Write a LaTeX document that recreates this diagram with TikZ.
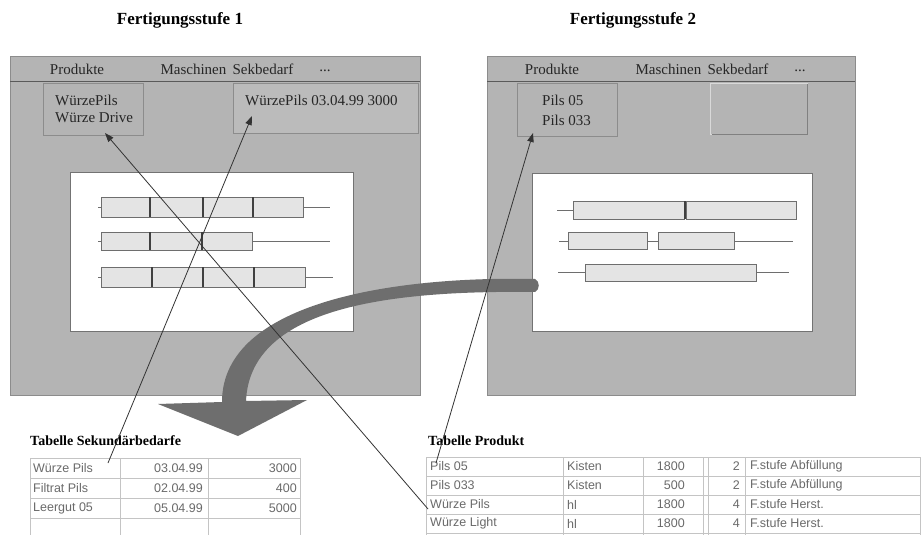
\documentclass[tikz,border=0pt]{standalone}
\usepackage{fontspec}
\setmainfont{Liberation Serif}
\newfontfamily\tabfont{Liberation Sans}
\usetikzlibrary{arrows.meta}

\definecolor{panelgray}{HTML}{B4B4B4}
\definecolor{paneledge}{HTML}{8C8C8C}
\definecolor{headrule}{HTML}{5A5A5A}
\definecolor{barfill}{HTML}{E4E4E4}
\definecolor{bardraw}{HTML}{6E6E6E}
\definecolor{flowgray}{HTML}{6E6E6E}
\definecolor{gridgray}{HTML}{C4C4C4}
\definecolor{celltext}{HTML}{6A6A6A}

\tikzset{
  panel/.style={fill=panelgray, draw=paneledge, line width=0.8pt},
  headrule/.style={draw=headrule, line width=0.9pt},
  subbox/.style={fill=panelgray, draw=black!45, line width=0.6pt},
  chart/.style={fill=white, draw=black!55, line width=0.8pt},
  ganttbar/.style={fill=barfill, draw=bardraw, line width=0.7pt},
  ganttline/.style={draw=bardraw, line width=0.7pt},
  divider/.style={draw=black!75, line width=1.2pt},
  title/.style={font=\fontsize{17}{20}\selectfont\bfseries, inner sep=0pt},
  tabtitle/.style={font=\fontsize{14}{16}\selectfont\bfseries, inner sep=0pt, anchor=west},
  ptext/.style={font=\fontsize{15}{18}\selectfont, text=black!85, inner sep=0pt},
  cell/.style={font=\tabfont\fontsize{12.5}{14}\selectfont, text=celltext, inner sep=0pt},
  cellL/.style={cell, anchor=west},
  cellR/.style={cell, anchor=east},
  grid/.style={draw=gridgray, line width=0.7pt},
  link/.style={draw=black!80, line width=0.8pt, -{Triangle[length=9pt,width=6.5pt]}}
}

\begin{document}
\begin{tikzpicture}[x=1pt,y=-1pt]
\useasboundingbox[fill=white] (0,0) rectangle (924,535);

% ---------- headings ----------
\node[title] (h1) at (180,20) {Fertigungsstufe 1};
\node[title] (h2) at (633,20) {Fertigungsstufe 2};

% ---------- stage 1 window ----------
\draw[panel] (10,56) rectangle (420,395);
\draw[headrule] (10,81) -- (420,81);
\node[ptext] (p1prod) at (77,69) {Produkte};
\node[ptext] (p1mach) at (227,69) {Maschinen\, Sekbedarf};
\node[ptext] (p1more) at (325,71) {...};

\draw[subbox] (43,83) rectangle (143,135);
\node[ptext, anchor=west] (p1a) at (55,100) {WürzePils};
\node[ptext, anchor=west] (p1b) at (55,118) {Würze Drive};

\draw[subbox, fill=panelgray!90!white] (233,83) rectangle (418,133);
\node[ptext, anchor=west] (p1sek) at (245,100) {WürzePils 03.04.99 3000};

\draw[chart] (70,172) rectangle (353,331);
% row 1
\draw[ganttline] (98,207) -- (101,207);
\draw[ganttline] (303,207) -- (330,207);
\draw[ganttbar] (101,197) rectangle (303,217);
\foreach \x in {150,203,253} \draw[divider] (\x,197) -- (\x,217);
% row 2
\draw[ganttline] (98,241) -- (101,241);
\draw[ganttline] (252,241) -- (330,241);
\draw[ganttbar] (101,232) rectangle (252,250);
\foreach \x in {150,202} \draw[divider] (\x,232) -- (\x,250);
% row 3
\draw[ganttline] (98,277) -- (101,277);
\draw[ganttline] (305,277) -- (333,277);
\draw[ganttbar] (101,267) rectangle (305,287);
\foreach \x in {152,203,254} \draw[divider] (\x,267) -- (\x,287);

% ---------- stage 2 window ----------
\draw[panel] (487,56) rectangle (855,395);
\draw[headrule] (487,81) -- (855,81);
\node[ptext] (p2prod) at (552,69) {Produkte};
\node[ptext] (p2mach) at (702,69) {Maschinen\, Sekbedarf};
\node[ptext] (p2more) at (800,71) {...};

\draw[subbox] (517,83) rectangle (617,136);
\node[ptext, anchor=west] (p2a) at (542,100) {Pils 05};
\node[ptext, anchor=west] (p2b) at (542,120) {Pils 033};

\draw[subbox, draw=white!85!black] (710,83) rectangle (807,134);
\draw[draw=black!50, line width=0.7pt] (712,134) -- (807,134) -- (807,84);

\draw[chart] (532,173) rectangle (812,331);
% row 1
\draw[ganttline] (557,210) -- (573,210);
\draw[ganttbar] (573,201) rectangle (684,219);
\draw[ganttbar] (686,201) rectangle (796,219);
\draw[divider] (685,201) -- (685,219);
% row 2
\draw[ganttline] (559,241) -- (568,241);
\draw[ganttbar] (568,232) rectangle (647,249);
\draw[ganttline] (647,241) -- (658,241);
\draw[ganttbar] (658,232) rectangle (734,249);
\draw[ganttline] (734,241) -- (793,241);
% row 3
\draw[ganttline] (558,272) -- (585,272);
\draw[ganttbar] (585,264) rectangle (756,281);
\draw[ganttline] (756,272) -- (789,272);

% ---------- transfer arrow from stage 2 to stage 1 ----------
\fill[flowgray]
  (535,279) .. controls (400,276) and (222,300) .. (222,402)
  -- (158,404) -- (238,436) -- (307,400) -- (246,401)
  .. controls (250,310) and (380,290) .. (535,292)
  .. controls (540,290) and (540,281) .. (535,279) -- cycle;

% ---------- table of secondary demands ----------
\node[tabtitle] (t1title) at (30,441) {Tabelle Sekundärbedarfe};
\foreach \y in {458,478,498,518} \draw[grid] (30,\y) -- (300,\y);
\foreach \x in {30,120,208,300} \draw[grid] (\x,458) -- (\x,535);
\node[cellL] (t1a1) at (33,468) {Würze Pils};
\node[cellR] (t1a2) at (203,468) {03.04.99};
\node[cellR] (t1a3) at (297,468) {3000};
\node[cellL] (t1b1) at (33,488) {Filtrat Pils};
\node[cellR] (t1b2) at (203,488) {02.04.99};
\node[cellR] (t1b3) at (297,488) {400};
\node[cellL] (t1c1) at (33,508) {Leergut 05};
\node[cellR] (t1c2) at (203,508) {05.04.99};
\node[cellR] (t1c3) at (297,508) {5000};

% ---------- product table ----------
\node[tabtitle] (t2title) at (428,441) {Tabelle Produkt};
\foreach \y in {457,476,495,514,533} \draw[grid] (426,\y) -- (920,\y);
\foreach \x in {426,563,643,703,708,745,920} \draw[grid] (\x,457) -- (\x,535);
\foreach \r/\y/\a/\b/\c/\d/\e in {
  1/466.5/Pils 05/Kisten/1800/2/F.stufe Abfüllung,
  2/485.5/Pils 033/Kisten/500/2/F.stufe Abfüllung,
  3/504.5/Würze Pils/hl/1800/4/F.stufe Herst.,
  4/523.5/Würze Light/hl/1800/4/F.stufe Herst.}{
  \node[cellL] (t2r\r a) at (430,\y) {\a};
  \node[cellL] (t2r\r b) at (567,\y) {\b};
  \node[cellR] (t2r\r c) at (685,\y) {\c};
  \node[cellR] (t2r\r d) at (740,\y) {\d};
  \node[cellL] (t2r\r e) at (750,\y) {\e};
}

% ---------- references between tables and windows ----------
\coordinate (srcSek)  at (108,463);
\coordinate (tipSek)  at (252,116);
\coordinate (srcWuerze) at (428,509);
\coordinate (tipWuerze) at (105,133);
\coordinate (srcPils) at (436,463);
\coordinate (tipPils) at (533,133);
\draw[link] (srcSek) -- (tipSek);
\draw[link] (srcWuerze) -- (tipWuerze);
\draw[link] (srcPils) -- (tipPils);
\end{tikzpicture}
\end{document}
